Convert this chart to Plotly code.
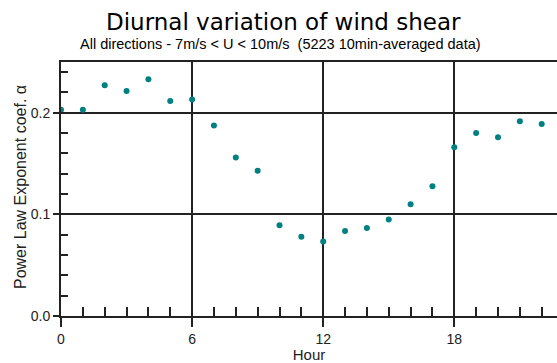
import plotly.graph_objects as go

hours = list(range(0, 23))
alpha = [0.203, 0.203, 0.227, 0.2215, 0.233, 0.2117, 0.213, 0.1875, 0.156, 0.143,
         0.0892, 0.078, 0.0734, 0.0836, 0.0865, 0.095, 0.110, 0.1278, 0.166, 0.180,
         0.176, 0.1917, 0.189]

title = "Diurnal variation of wind shear"
subtitle = "All directions - 7m/s < U < 10m/s  (5223 10min-averaged data)"
x_title = "Hour"
y_title = "Power Law Exponent coef. α"

W, H = 557, 363
L, T, B, R = 61, 62, 47, 0
XMAX = (W - L - R) / 21.85

fig = go.Figure()
fig.add_trace(go.Scatter(
    x=hours, y=alpha, mode="markers",
    marker=dict(color="#008080", size=6, symbol="circle"),
    showlegend=False, cliponaxis=True,
))
# invisible companion trace so the minor-tick overlay axes get drawn
fig.add_trace(go.Scatter(
    x=hours, y=alpha, mode="markers", xaxis="x2", yaxis="y2",
    marker=dict(opacity=0), hoverinfo="skip", showlegend=False,
))

axis_font = dict(family="Liberation Sans, Arial, sans-serif", size=14, color="#222222")
INK = "#222"

fig.update_layout(
    width=W, height=H,
    margin=dict(l=L, r=R, t=T, b=B),
    paper_bgcolor="white", plot_bgcolor="white",
    xaxis=dict(
        range=[0, XMAX],
        tickmode="linear", tick0=0, dtick=6,
        ticks="outside", ticklen=9, tickwidth=1.5, tickcolor=INK,
        showline=True, linecolor=INK, linewidth=2, mirror=True,
        showgrid=True, gridcolor=INK, gridwidth=1.5,
        zeroline=False,
        tickfont=axis_font,
        title=dict(text=x_title, font=dict(family="Liberation Sans, Arial, sans-serif", size=15, color=INK), standoff=4),
        fixedrange=True,
    ),
    yaxis=dict(
        range=[0, 0.25],
        tickmode="linear", tick0=0, dtick=0.1, tickformat=".1f",
        ticks="outside", ticklen=6, tickwidth=1.5, tickcolor=INK,
        showline=True, linecolor=INK, linewidth=2, mirror=False,
        showgrid=True, gridcolor=INK, gridwidth=1.5,
        zeroline=False,
        tickfont=axis_font,
        fixedrange=True,
    ),
    xaxis2=dict(
        overlaying="x", side="bottom", range=[0, XMAX],
        tickmode="linear", tick0=0, dtick=1,
        ticks="inside", ticklen=9, tickwidth=1.5, tickcolor=INK,
        showticklabels=False, showgrid=False, showline=False, zeroline=False,
        fixedrange=True,
    ),
    yaxis2=dict(
        overlaying="y", side="left", range=[0, 0.25],
        tickmode="linear", tick0=0, dtick=0.02,
        ticks="inside", ticklen=7, tickwidth=1.5, tickcolor=INK,
        showticklabels=False, showgrid=False, showline=False, zeroline=False,
        fixedrange=True,
    ),
    annotations=[
        dict(text=title, xref="paper", yref="paper", x=(283 - L) / (W - L - R), y=1 + (T - 22) / (H - T - B),
             showarrow=False, xanchor="center", yanchor="middle",
             font=dict(family="DejaVu Sans, Verdana, sans-serif", size=23, color="black")),
        dict(text=subtitle, xref="paper", yref="paper", x=(280 - L) / (W - L - R), y=1 + (T - 44) / (H - T - B),
             showarrow=False, xanchor="center", yanchor="middle",
             font=dict(family="Liberation Sans, Arial, sans-serif", size=14.5, color="black")),
        dict(text=y_title, xref="paper", yref="paper", x=(20 - L) / (W - L - R), y=(316 - 187) / (H - T - B),
             showarrow=False, xanchor="center", yanchor="middle", textangle=-90,
             font=dict(family="Liberation Sans, Arial, sans-serif", size=16, color=INK)),
    ],
)

fig.write_html("out.html")
